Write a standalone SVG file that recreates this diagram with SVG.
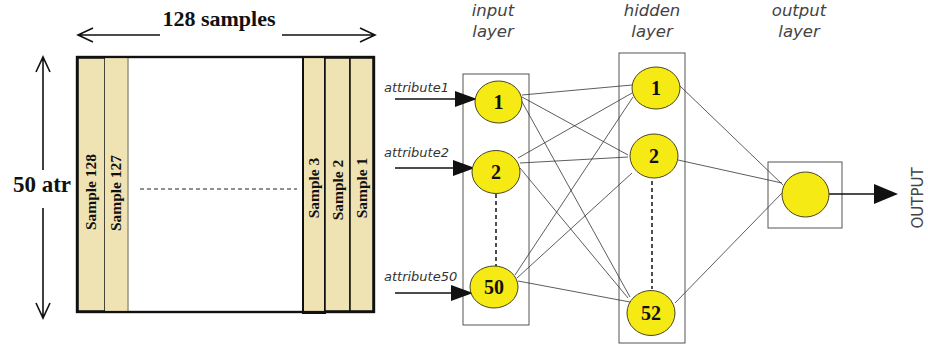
<svg xmlns="http://www.w3.org/2000/svg" width="928" height="346" viewBox="0 0 928 346">
<style>
.bold{font-family:"Liberation Serif","Times New Roman",serif;font-weight:bold;fill:#111}
.col{fill:#efe3b3;stroke:#111;stroke-width:1.5}
.lbl{font-family:"Liberation Serif",serif;font-weight:bold;font-size:15.5px;fill:#111}
.layer{font-family:"DejaVu Sans","Liberation Sans",sans-serif;font-style:italic;font-size:16.5px;fill:#444;text-anchor:middle}
.attr{font-family:"DejaVu Sans","Liberation Sans",sans-serif;font-style:italic;font-size:13px;fill:#333}
.node{fill:#f6ea14;stroke:#4a4420;stroke-width:1}
.ntext{font-family:"Liberation Serif",serif;font-weight:bold;font-size:20px;fill:#111;text-anchor:middle}
.box{fill:none;stroke:#555;stroke-width:1}
.edge{stroke:#333;stroke-width:0.8;fill:none}
.arr{stroke:#111;stroke-width:1.6;fill:none}
.dash{stroke:#222;stroke-width:1.6;stroke-dasharray:4,3;fill:none}
</style>
<defs>
<marker id="tri" markerWidth="22" markerHeight="16" refX="21" refY="8" orient="auto" markerUnits="userSpaceOnUse">
<path d="M0,0 L22,8 L0,16 Z" fill="#111"/>
</marker>
</defs>

<g id="matrix">
<rect x="77" y="57" width="297" height="255" fill="#fff" stroke="#111" stroke-width="2.2"/>
<rect class="col" x="78" y="58" width="27" height="253"/>
<rect x="105" y="58" width="23" height="253" fill="#efe3b3" stroke="none"/>
<line x1="128" y1="58" x2="128" y2="311" stroke="#9a9480" stroke-width="1.5"/>
<rect x="303" y="57" width="22" height="256" fill="#efe3b3" stroke="#111" stroke-width="2"/>
<rect class="col" x="325" y="58" width="25" height="253"/>
<rect class="col" x="350" y="58" width="23" height="253"/>
<rect x="77" y="57" width="297" height="255" fill="none" stroke="#111" stroke-width="2.2"/>
<text class="lbl" transform="translate(96,192) rotate(-90)" text-anchor="middle">Sample 128</text>
<text class="lbl" transform="translate(121,193) rotate(-90)" text-anchor="middle">Sample 127</text>
<text class="lbl" transform="translate(319,188) rotate(-90)" text-anchor="middle">Sample 3</text>
<text class="lbl" transform="translate(343,190) rotate(-90)" text-anchor="middle">Sample 2</text>
<text class="lbl" transform="translate(367,188) rotate(-90)" text-anchor="middle">Sample 1</text>
<line x1="140" y1="189" x2="297" y2="189" stroke="#222" stroke-width="1.2" stroke-dasharray="4,3"/>
</g>

<g id="dims">
<text class="bold" x="219" y="26" font-size="22" text-anchor="middle">128 samples</text>
<path d="M160,35 H78 M93,28 L78,35 L93,42" class="arr" stroke-width="1.4"/>
<path d="M282,35 H375 M360,28 L375,35 L360,42" class="arr" stroke-width="1.4"/>
<text class="bold" x="42" y="192" font-size="23" text-anchor="middle">50 atr</text>
<path d="M43,170 V57 M36,72 L43,57 L50,72" class="arr" stroke-width="1.4"/>
<path d="M43,208 V318 M36,303 L43,318 L50,303" class="arr" stroke-width="1.4"/>
</g>

<g id="labels">
<text class="layer" x="493" y="16">input</text>
<text class="layer" x="493" y="37">layer</text>
<text class="layer" x="652" y="16">hidden</text>
<text class="layer" x="652" y="37">layer</text>
<text class="layer" x="799" y="16">output</text>
<text class="layer" x="799" y="37">layer</text>
<text class="attr" x="384" y="92">attribute1</text>
<text class="attr" x="384" y="157">attribute2</text>
<text class="attr" x="384" y="281">attribute50</text>
<text transform="translate(923,198) rotate(-90)" text-anchor="middle" font-family="DejaVu Sans, Liberation Sans, sans-serif" font-size="15" fill="#444">OUTPUT</text>
</g>

<g id="layer-boxes">
<rect class="box" x="463" y="74" width="66" height="251"/>
<rect class="box" x="619" y="53" width="66" height="290"/>
<rect class="box" x="768" y="162" width="74" height="66"/>
</g>

<g id="connectors">
<line class="edge" x1="522" y1="95" x2="632" y2="85"/>
<line class="edge" x1="522" y1="97" x2="628" y2="155"/>
<line class="edge" x1="521" y1="100" x2="630" y2="297"/>
<line class="edge" x1="518" y1="158" x2="632" y2="93"/>
<line class="edge" x1="520" y1="163" x2="628" y2="157"/>
<line class="edge" x1="520" y1="168" x2="628" y2="298"/>
<line class="edge" x1="515" y1="275" x2="633" y2="97"/>
<line class="edge" x1="517" y1="278" x2="632" y2="173"/>
<line class="edge" x1="518" y1="281" x2="630" y2="302"/>
<line class="edge" x1="680" y1="86" x2="783" y2="185"/>
<line class="edge" x1="678" y1="160" x2="782" y2="183"/>
<line class="edge" x1="675" y1="303" x2="783" y2="192"/>
<line class="arr" x1="395" y1="99" x2="476" y2="99" marker-end="url(#tri)" stroke-width="1.8"/>
<line class="arr" x1="395" y1="168" x2="474" y2="168" marker-end="url(#tri)" stroke-width="1.8"/>
<line class="arr" x1="395" y1="293" x2="472" y2="293" marker-end="url(#tri)" stroke-width="1.8"/>
<line class="dash" x1="496" y1="194" x2="496" y2="266"/>
<line class="dash" x1="652" y1="181" x2="652" y2="289"/>
<line stroke="#111" stroke-width="1.5" x1="829" y1="194" x2="876" y2="194"/>
<path d="M874,184 L898,194 L874,204 Z" fill="#111"/>
</g>

<g id="in1"><ellipse class="node" cx="498.5" cy="102" rx="23.5" ry="21"/><text class="ntext" x="498.5" y="109">1</text></g>
<g id="in2"><ellipse class="node" cx="496" cy="172" rx="24" ry="21.5"/><text class="ntext" x="496" y="179">2</text></g>
<g id="in50"><ellipse class="node" cx="494" cy="287" rx="24" ry="21"/><text class="ntext" x="494" y="294">50</text></g>
<g id="h1"><ellipse class="node" cx="656" cy="88" rx="24" ry="21"/><text class="ntext" x="656" y="95">1</text></g>
<g id="h2"><ellipse class="node" cx="654" cy="156" rx="24" ry="22"/><text class="ntext" x="654" y="163">2</text></g>
<g id="h52"><ellipse class="node" cx="651" cy="313" rx="24" ry="22.5"/><text class="ntext" x="651" y="320">52</text></g>
<g id="out"><ellipse class="node" cx="805.5" cy="194.5" rx="23.5" ry="22.5"/></g>
</svg>
